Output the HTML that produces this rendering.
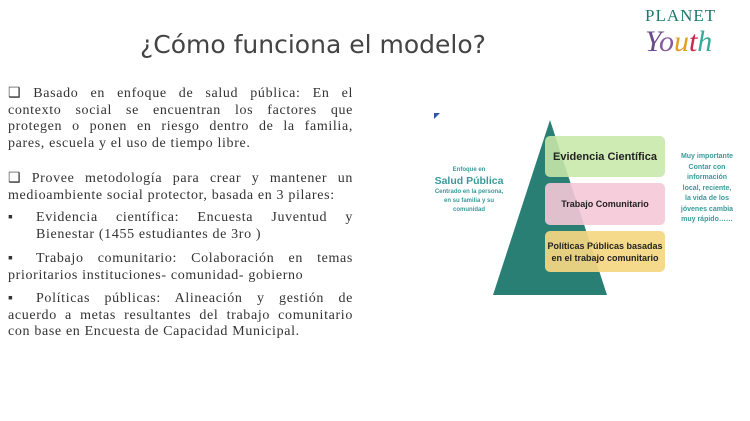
<!DOCTYPE html>
<html><head><meta charset="utf-8"><style>
body{margin:0;width:750px;height:421px;background:#fff;position:relative;overflow:hidden;font-family:"Liberation Serif",serif;}
.t{position:absolute;left:140px;top:30px;font-family:"DejaVu Sans","Liberation Sans",sans-serif;font-size:25px;color:#444;}
.p{position:absolute;left:8px;width:345px;font-size:14px;letter-spacing:0.65px;line-height:16.5px;color:#333;text-align:left;white-space:nowrap;}
.p span.j{display:block;text-align:justify;text-align-last:justify;}
.b{display:inline-block;width:28px;}
.box{position:absolute;left:545px;width:120px;border-radius:5px;font-family:"Liberation Sans",sans-serif;font-size:9px;color:#222;display:flex;align-items:center;justify-content:center;text-align:center;}
.sm{position:absolute;font-family:"Liberation Sans",sans-serif;color:#3a9a9a;text-align:center;font-weight:bold;}
</style></head><body>
<div class="t">¿Cómo funciona el modelo?</div>
<div style="position:absolute;left:645px;top:6px;font-family:'Liberation Serif',serif;color:#1e7a6e;font-size:17px;letter-spacing:1px">PLANET</div>
<div style="position:absolute;left:645px;top:22px;font-family:'Liberation Serif',serif;font-style:italic;font-size:30px;line-height:40px"><span style="color:#6b4c8a">Y</span><span style="color:#8a5aa0">o</span><span style="color:#e0a020">u</span><span style="color:#c8284a">t</span><span style="color:#3aa89a">h</span></div>

<div class="p" style="top:86px"><span class="j">❑ Basado en enfoque de salud pública: En el</span><span class="j">contexto social se encuentran los factores que</span><span class="j">protegen o ponen en riesgo dentro de la familia,</span>pares, escuela y el uso de tiempo libre.</div>
<div class="p" style="top:171px"><span class="j">❑ Provee metodología para crear y mantener un</span>medioambiente social protector, basada en 3 pilares:</div>
<div class="p" style="top:210px"><span class="j"><span class="b">▪</span>Evidencia científica: Encuesta Juventud y</span><span style="padding-left:28px">Bienestar (1455 estudiantes de 3ro )</span></div>
<div class="p" style="top:251px"><span class="j"><span class="b">▪</span>Trabajo comunitario: Colaboración en temas</span>prioritarios instituciones- comunidad- gobierno</div>
<div class="p" style="top:291px"><span class="j"><span class="b">▪</span>Políticas públicas: Alineación y gestión de</span><span class="j">acuerdo a metas resultantes del trabajo comunitario</span>con base en Encuesta de Capacidad Municipal.</div>

<svg style="position:absolute;left:0;top:0" width="750" height="421"><polygon points="550,120 493,295 607,295" fill="#2a7f74"/><polygon points="434,113 440,113 434,119" fill="#2a5aa0"/></svg>
<div class="box" style="top:136px;height:41px;background:rgba(200,232,170,0.88);font-size:11px;font-weight:bold">Evidencia Científica</div>
<div class="box" style="top:183px;height:42px;background:rgba(245,200,215,0.9);font-weight:bold">Trabajo Comunitario</div>
<div class="box" style="top:231px;height:41px;background:rgba(245,215,130,0.92);font-weight:bold;line-height:12px">Políticas Públicas basadas en el trabajo comunitario</div>
<div class="sm" style="left:429px;top:166px;width:80px;font-size:6px;line-height:9px">Enfoque en<br><span style="font-size:10.5px;line-height:13px">Salud Pública</span><br>Centrado en la persona,<br>en su familia y su<br>comunidad</div>
<div class="sm" style="left:672px;top:152px;width:70px;font-size:7px;line-height:10.5px">Muy importante<br>Contar con<br>información<br>local, reciente,<br>la vida de los<br>jóvenes cambia<br>muy rápido……</div>
</body></html>
